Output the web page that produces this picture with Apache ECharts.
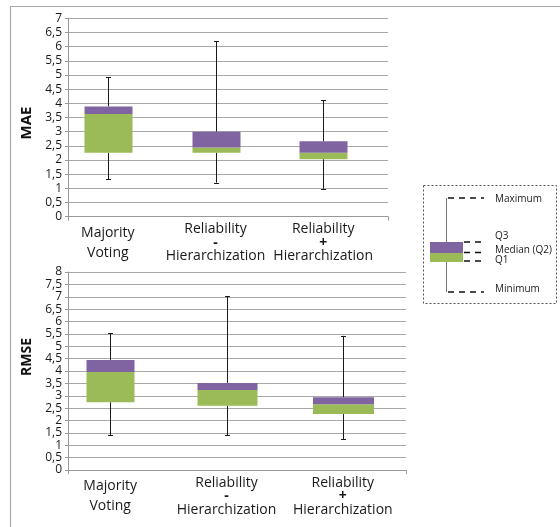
<!DOCTYPE html>
<html>
<head>
<meta charset="utf-8">
<script src="https://cdn.jsdelivr.net/npm/echarts@6/dist/echarts.min.js"></script>
<style>html,body{margin:0;padding:0;background:#fff}#c{width:560px;height:527px}</style>
</head>
<body>
<div id="c"></div>
<script>
// ---- data ----
const categories = ['Majority\nVoting', 'Reliability\n-\nHierarchization', 'Reliability\n+\nHierarchization'];
const maeMin    = [1.32, 1.20, 0.99];
const maeQ1     = [2.26, 2.26, 2.03];
const maeMedian = [3.62, 2.44, 2.26];
const maeQ3     = [3.89, 3.00, 2.66];
const maeMax    = [4.92, 6.20, 4.12];
const rmseMin    = [1.42, 1.41, 1.24];
const rmseQ1     = [2.74, 2.60, 2.26];
const rmseMedian = [3.96, 3.23, 2.66];
const rmseQ3     = [4.44, 3.52, 2.94];
const rmseMax    = [5.52, 7.03, 5.42];
const legendLabels = ['Maximum', 'Q3', 'Median (Q2)', 'Q1', 'Minimum'];

// ---- styles ----
const GREEN = '#9bbb59', PURPLE = '#8064a2', INK = '#1a1a1a', GRID = '#a8a8a8', FONT = '"Open Sans", sans-serif';
const maeBoxWidths = [48, 48, 48];
const rmseBoxWidths = [48, 60, 61];

function rows(mn, q1, md, q3, mx) {
  return categories.map((c, i) => [i, mn[i], q1[i], md[i], q3[i], mx[i]]);
}

function makeRender(widths) {
  return function (params, api) {
    const i = api.value(0);
    const pMin = api.coord([i, api.value(1)]);
    const pQ1 = api.coord([i, api.value(2)]);
    const pMd = api.coord([i, api.value(3)]);
    const pQ3 = api.coord([i, api.value(4)]);
    const pMax = api.coord([i, api.value(5)]);
    const x = Math.round(pMin[0]) + 0.5;
    const w = widths[i];
    const cap = 2.5;
    const ls = { stroke: INK, lineWidth: 1 };
    return {
      type: 'group',
      children: [
        { type: 'line', shape: { x1: x, y1: pMax[1], x2: x, y2: pQ3[1] }, style: ls },
        { type: 'line', shape: { x1: x, y1: pQ1[1], x2: x, y2: pMin[1] }, style: ls },
        { type: 'line', shape: { x1: x - cap, y1: Math.round(pMax[1]) + 0.5, x2: x + cap, y2: Math.round(pMax[1]) + 0.5 }, style: ls },
        { type: 'line', shape: { x1: x - cap, y1: Math.round(pMin[1]) + 0.5, x2: x + cap, y2: Math.round(pMin[1]) + 0.5 }, style: ls },
        { type: 'rect', shape: { x: x - w / 2, y: pMd[1], width: w, height: pQ1[1] - pMd[1] }, style: { fill: GREEN } },
        { type: 'rect', shape: { x: x - w / 2, y: pQ3[1], width: w, height: pMd[1] - pQ3[1] }, style: { fill: PURPLE } }
      ]
    };
  };
}

function catLabel(v) {
  const parts = v.split('\n');
  if (parts.length === 2) return parts.map(p => '{a|' + p + '}').join('\n');
  return '{b|' + parts[0] + '}\n{c|' + parts[1] + '}\n{b|' + parts[2] + '}';
}

const richStyles = {
  a: { fontSize: 14, fontFamily: FONT, color: INK, lineHeight: 20 },
  b: { fontSize: 14, fontFamily: FONT, color: INK, lineHeight: 13.5 },
  c: { fontSize: 14, fontFamily: FONT, color: INK, lineHeight: 13.5, fontWeight: 'bold' }
};

function mainX(gi) {
  return {
    gridIndex: gi, type: 'category', data: [''], boundaryGap: true,
    axisLine: { show: true, lineStyle: { color: '#999', width: 1 } },
    axisTick: { show: true, length: 4, lineStyle: { color: '#999' } },
    axisLabel: { show: false }, splitLine: { show: false }
  };
}
function boxX(gi) {
  return {
    gridIndex: gi, type: 'category', data: categories,
    axisLine: { show: false }, axisTick: { show: false }, splitLine: { show: false },
    axisLabel: { show: true, interval: 0, margin: 6, formatter: catLabel, rich: richStyles }
  };
}
function mainY(gi, max) {
  return {
    gridIndex: gi, type: 'value', min: 0, max: max, interval: 0.5,
    axisLine: { show: true, lineStyle: { color: '#999', width: 1 } },
    axisTick: { show: true, length: 3, lineStyle: { color: '#999' } },
    axisLabel: { margin: 6, fontSize: 12, fontFamily: FONT, color: INK, formatter: v => String(v).replace('.', ',') },
    splitLine: { show: true, lineStyle: { color: GRID, width: 1 } }
  };
}
function hiddenY(gi, max) {
  return { gridIndex: gi, type: 'value', min: 0, max: max, show: false, splitLine: { show: false } };
}

const dashLine = { stroke: '#111', lineWidth: 1.5, lineDash: [6, 5] };
const legendText = (t, y) => ({ type: 'text', x: 495, y: y, style: { text: t, fontSize: 10, fontFamily: FONT, fill: INK, verticalAlign: 'middle' } });

const option = {
  animation: false,
  backgroundColor: '#fff',
  grid: [
    { left: 68, top: 18.3, width: 320, height: 198.4 },
    { left: 54, top: 18.3, width: 323, height: 198.4 },
    { left: 68, top: 272, width: 338, height: 198 },
    { left: 52, top: 272, width: 349, height: 198 }
  ],
  xAxis: [mainX(0), boxX(1), mainX(2), boxX(3)],
  yAxis: [mainY(0, 7), hiddenY(1, 7), mainY(2, 8), hiddenY(3, 8)],
  series: [
    { type: 'custom', xAxisIndex: 1, yAxisIndex: 1, renderItem: makeRender(maeBoxWidths), data: rows(maeMin, maeQ1, maeMedian, maeQ3, maeMax), z: 5 },
    { type: 'custom', xAxisIndex: 3, yAxisIndex: 3, renderItem: makeRender(rmseBoxWidths), data: rows(rmseMin, rmseQ1, rmseMedian, rmseQ3, rmseMax), z: 5 }
  ],
  graphic: [
    // frame
    { type: 'line', shape: { x1: 10, y1: 6.5, x2: 560, y2: 6.5 }, style: { stroke: '#aaa', lineWidth: 1.2 } },
    { type: 'line', shape: { x1: 10.5, y1: 6, x2: 10.5, y2: 527 }, style: { stroke: '#aaa', lineWidth: 1.2 } },
    // axis titles
    { type: 'text', x: 27, y: 123, rotation: Math.PI / 2, style: { text: 'MAE', fontSize: 15, fontWeight: 'bold', fontFamily: FONT, fill: '#111', align: 'center', verticalAlign: 'middle' } },
    { type: 'text', x: 27, y: 357, rotation: Math.PI / 2, style: { text: 'RMSE', fontSize: 14, fontWeight: 'bold', fontFamily: FONT, fill: '#111', align: 'center', verticalAlign: 'middle' } },
    // legend box
    { type: 'rect', shape: { x: 423.5, y: 185.5, width: 133, height: 118 }, style: { fill: 'none', stroke: '#555', lineWidth: 1, lineDash: [2, 2] } },
    { type: 'line', shape: { x1: 446.5, y1: 198, x2: 446.5, y2: 292 }, style: { stroke: '#777', lineWidth: 1 } },
    { type: 'rect', shape: { x: 430, y: 242, width: 33, height: 11 }, style: { fill: PURPLE } },
    { type: 'rect', shape: { x: 430, y: 253, width: 33, height: 9 }, style: { fill: GREEN } },
    { type: 'line', shape: { x1: 448, y1: 198, x2: 484, y2: 198 }, style: dashLine },
    { type: 'line', shape: { x1: 448, y1: 292, x2: 484, y2: 292 }, style: dashLine },
    { type: 'line', shape: { x1: 464, y1: 242, x2: 482, y2: 242 }, style: dashLine },
    { type: 'line', shape: { x1: 464, y1: 252.5, x2: 482, y2: 252.5 }, style: dashLine },
    { type: 'line', shape: { x1: 464, y1: 261, x2: 482, y2: 261 }, style: dashLine },
    legendText(legendLabels[0], 199),
    legendText(legendLabels[1], 236.5),
    legendText(legendLabels[2], 250),
    legendText(legendLabels[3], 260),
    legendText(legendLabels[4], 289)
  ]
};

const chart = echarts.init(document.getElementById('c'), null, { renderer: 'canvas' });
chart.setOption(option);
</script>
</body>
</html>
